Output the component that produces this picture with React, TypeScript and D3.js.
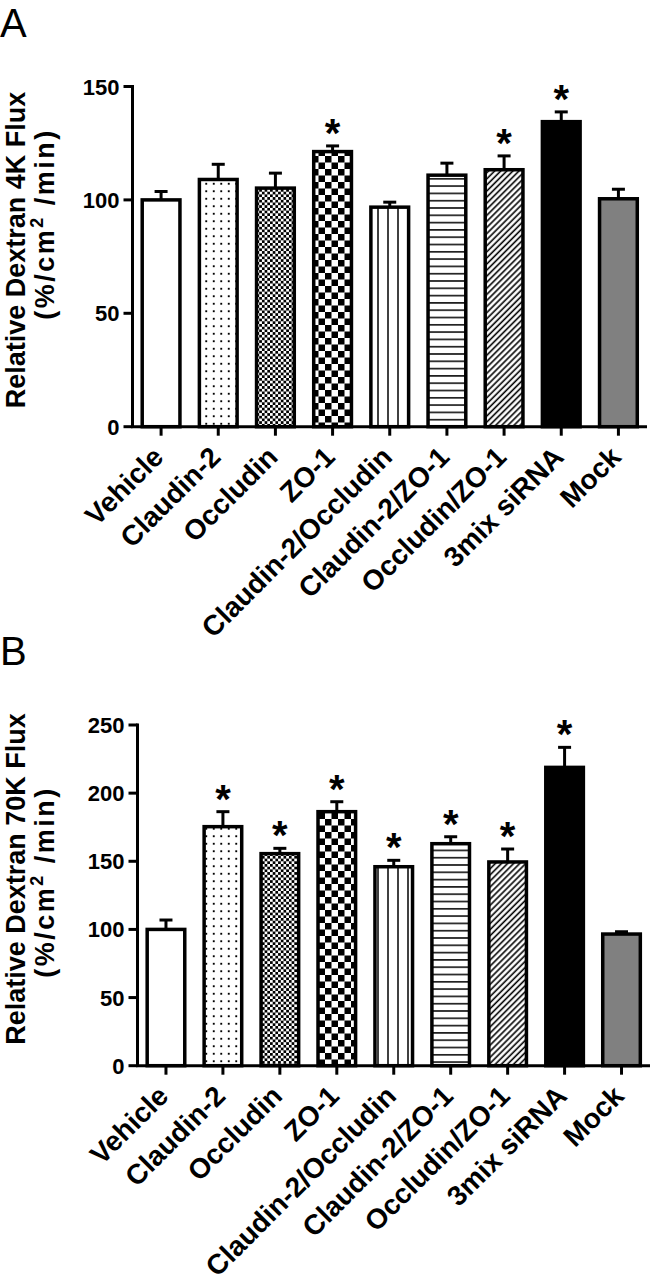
import React from "react";
import * as d3 from "d3";

const categories = [
  "Vehicle",
  "Claudin-2",
  "Occludin",
  "ZO-1",
  "Claudin-2/Occludin",
  "Claudin-2/ZO-1",
  "Occludin/ZO-1",
  "3mix siRNA",
  "Mock",
];
const fills = ["#ffffff", "url(#dots)", "url(#fineCheck)", "url(#coarseCheck)", "url(#vlines)", "url(#hlines)", "url(#diag)", "#000000", "#808080"];

const fluxA = [100, 109, 105.2, 121.3, 96.8, 110.9, 113.3, 134.5, 100.5];
const semA = [3.7, 6.7, 6.6, 2.5, 2.2, 5.3, 6.1, 4.3, 4.2];
const sigA = [false, false, false, true, false, false, true, true, false];
const ticksA = [0, 50, 100, 150];

const fluxB = [100, 175.4, 155.6, 186.4, 146, 162.9, 149.5, 218.9, 96.6];
const semB = [6.9, 11, 3.9, 7.3, 4.7, 5.1, 9.5, 14.7, 1.7];
const sigB = [false, true, true, true, true, true, true, true, false];
const ticksB = [0, 50, 100, 150, 200, 250];

const FONT = "'Liberation Sans', Arial, Helvetica, sans-serif";

type PanelProps = {
  letter: string;
  letterY: number;
  values: number[];
  sems: number[];
  sig: boolean[];
  ticks: number[];
  yMax: number;
  yTop: number;
  yBottom: number;
  axisX: number;
  xEnd: number;
  labelMain: string;
  labelMainY: number;
  labelSubY: number;
};

function Panel(p: PanelProps) {
  const x = d3
    .scaleBand<string>()
    .domain(categories)
    .range([p.axisX, p.xEnd])
    .paddingInner(0.34)
    .paddingOuter(0.17);
  const y = d3.scaleLinear().domain([0, p.yMax]).range([p.yBottom, p.yTop]);
  const bw = x.bandwidth();
  const y0 = y(0);
  return (
    <g>
      <text x={0} y={p.letterY} fontFamily={FONT} fontSize={40} fill="#000">
        {p.letter}
      </text>
      {/* y-axis title */}
      <text
        transform={`translate(25,${p.labelMainY}) rotate(-90)`}
        textAnchor="middle"
        fontFamily={FONT}
        fontWeight="bold"
        fontSize={27}
        fill="#000"
      >
        {p.labelMain}
      </text>
      <text
        transform={`translate(54,${p.labelSubY}) rotate(-90)`}
        textAnchor="middle"
        fontFamily={FONT}
        fontWeight="bold"
        fontSize={27}
        letterSpacing={2.5}
        fill="#000"
      >
        <tspan>(%/cm</tspan>
        <tspan dy={-11} fontSize={18}>2</tspan>
        <tspan dy={11}> /min)</tspan>
      </text>
      {/* bars */}
      {categories.map((c, i) => {
        const v = p.values[i];
        const cx = (x(c) as number) + bw / 2;
        const top = y(v);
        const et = y(v + p.sems[i]);
        return (
          <g key={c}>
            <line x1={cx} x2={cx} y1={top} y2={et} stroke="#000" strokeWidth={3} />
            <line x1={cx - 6.5} x2={cx + 6.5} y1={et} y2={et} stroke="#000" strokeWidth={3} />
            <rect
              x={x(c) as number}
              y={top}
              width={bw}
              height={y0 - top}
              fill={fills[i]}
              stroke="#000"
              strokeWidth={3.5}
            />
            {p.sig[i] && (
              <text
                x={cx}
                y={et + 1}
                textAnchor="middle"
                fontFamily={FONT}
                fontWeight="bold"
                fontSize={40}
                fill="#000"
              >
                *
              </text>
            )}
          </g>
        );
      })}
      {/* axes */}
      <line x1={p.axisX} x2={p.axisX} y1={y(p.yMax) - 1.5} y2={y0} stroke="#000" strokeWidth={3} />
      <line x1={p.axisX - 1.5} x2={p.xEnd} y1={y0} y2={y0} stroke="#000" strokeWidth={3} />
      {p.ticks.map((t) => (
        <g key={t}>
          <line x1={p.axisX - 9} x2={p.axisX} y1={y(t)} y2={y(t)} stroke="#000" strokeWidth={3} />
          <text
            x={p.axisX - 13}
            y={y(t) + 8}
            textAnchor="end"
            fontFamily={FONT}
            fontWeight="bold"
            fontSize={22}
            fill="#000"
          >
            {t}
          </text>
        </g>
      ))}
      {categories.map((c) => {
        const cx = (x(c) as number) + bw / 2;
        return (
          <g key={"t" + c}>
            <line x1={cx} x2={cx} y1={y0} y2={y0 + 9} stroke="#000" strokeWidth={3} />
            <text
              transform={`translate(${cx + 4},${y0 + 32}) rotate(-45)`}
              textAnchor="end"
              fontFamily={FONT}
              fontWeight="bold"
              fontSize={28}
              fill="#000"
            >
              {c}
            </text>
          </g>
        );
      })}
    </g>
  );
}

export default function App() {
  return (
    <svg
      width={650}
      height={1283}
      style={{ position: "absolute", left: 0, top: 0, background: "#fff" }}
    >
      <defs>
        <pattern id="dots" width={7.5} height={7.5} patternUnits="userSpaceOnUse">
          <rect width={7.5} height={7.5} fill="#fff" />
          <rect x={2.8} y={2.8} width={1.9} height={1.9} fill="#000" />
        </pattern>
        <pattern id="fineCheck" width={5.4} height={5.4} patternUnits="userSpaceOnUse">
          <rect width={5.4} height={5.4} fill="#fff" />
          <rect width={2.7} height={2.7} fill="#000" />
          <rect x={2.7} y={2.7} width={2.7} height={2.7} fill="#000" />
        </pattern>
        <pattern id="coarseCheck" width={13} height={13} patternUnits="userSpaceOnUse">
          <rect width={13} height={13} fill="#fff" />
          <rect width={6.5} height={6.5} fill="#000" />
          <rect x={6.5} y={6.5} width={6.5} height={6.5} fill="#000" />
        </pattern>
        <pattern id="vlines" width={10} height={10} patternUnits="userSpaceOnUse" x={3}>
          <rect width={10} height={10} fill="#fff" />
          <line x1={5} x2={5} y1={0} y2={10} stroke="#000" strokeWidth={1.5} />
        </pattern>
        <pattern id="hlines" width={10} height={7.3} patternUnits="userSpaceOnUse">
          <rect width={10} height={7.3} fill="#fff" />
          <line x1={0} x2={10} y1={3.6} y2={3.6} stroke="#000" strokeWidth={1.5} />
        </pattern>
        <pattern id="diag" width={4.3} height={10} patternUnits="userSpaceOnUse" patternTransform="rotate(45)">
          <rect width={4.3} height={10} fill="#fff" />
          <line x1={2} x2={2} y1={0} y2={10} stroke="#000" strokeWidth={1.6} />
        </pattern>
      </defs>
      <Panel
        letter="A"
        letterY={37}
        values={fluxA}
        sems={semA}
        sig={sigA}
        ticks={ticksA}
        yMax={150}
        yTop={86.5}
        yBottom={426.7}
        axisX={132.5}
        xEnd={647}
        labelMain="Relative Dextran 4K Flux"
        labelMainY={250}
        labelSubY={224}
      />
      <Panel
        letter="B"
        letterY={665}
        values={fluxB}
        sems={semB}
        sig={sigB}
        ticks={ticksB}
        yMax={250}
        yTop={725}
        yBottom={1065.7}
        axisX={137.5}
        xEnd={650}
        labelMain="Relative Dextran 70K Flux"
        labelMainY={879}
        labelSubY={882}
      />
    </svg>
  );
}
